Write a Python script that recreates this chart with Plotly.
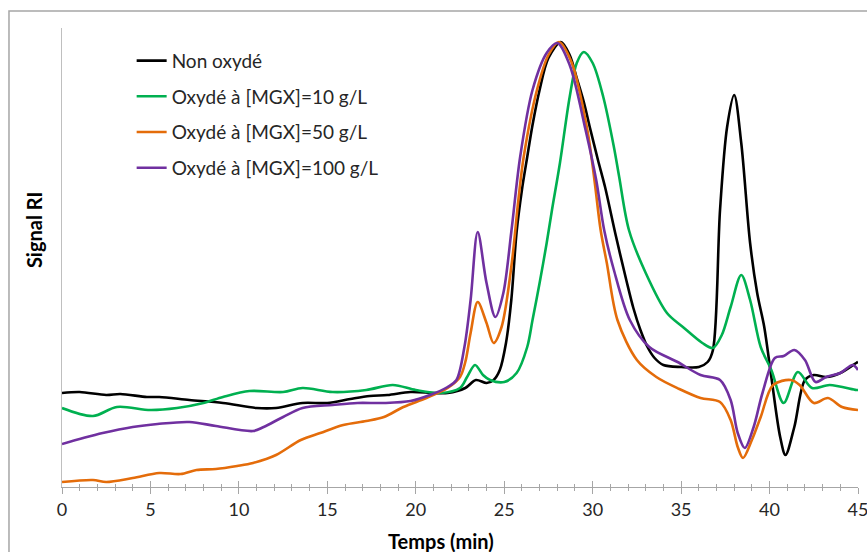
import plotly.graph_objects as go

# ---- data (signal in arbitrary units) ----
t_non = [0, 1, 2.5, 3.3, 4.8, 5.5, 7.2, 9.1, 11, 12.1, 13.6, 15, 16.3, 17.4, 18.4, 19.7, 21, 21.8,
         22.8, 23.4, 24.0, 24.4, 24.75, 25.1, 25.4, 25.7, 26.0, 26.3, 26.6, 27.0, 27.5, 28.2, 28.7,
         29.1, 29.5, 29.85, 30.3, 30.7, 31.3, 31.9, 32.3, 32.7, 33.1, 33.5, 34, 35, 36, 36.5, 36.8,
         37.2, 37.6, 38.0, 38.4, 38.9, 39.3, 39.7, 40.1, 40.6, 40.9, 41.4, 42.0, 42.5, 43.2, 44.0,
         44.9, 45]
y_non = [94, 95, 92, 93, 90, 90, 87, 84, 79, 79, 84, 84, 88, 91, 92, 95, 94, 94,
         99, 107, 104, 107, 117, 144, 187, 255, 297, 330, 362, 397, 429, 445, 432,
         409, 385, 359, 327, 300, 252, 207, 179, 157, 140, 129, 122, 120, 120, 125, 137,
         277, 360, 392, 344, 244, 194, 160, 110, 50, 32, 60, 107, 112, 110, 114,
         124, 125]

t_10 = [0, 1.75, 3.1, 5, 6.5, 8, 9.1, 10.6, 12.5, 13.6, 15.3, 17.2, 18.7, 20, 21.4, 22.5, 22.9,
        23.35, 23.8, 24.2, 25.0, 25.7, 26.3, 26.6, 27.0, 27.4, 27.7, 28.15, 28.7, 29.1, 29.5, 30.0,
        30.6, 31.2, 31.5, 32.05, 33.0, 34.2, 35.1, 36.2, 36.8, 37.3, 37.8, 38.4, 38.9, 39.5, 40.1,
        40.8, 41.6, 42.4, 43.4, 44.9, 45]
y_10 = [79, 71, 80, 77, 79, 84, 90, 96, 95, 99, 95, 97, 102, 97, 94, 99, 110,
        122, 112, 107, 105, 114, 140, 167, 204, 244, 277, 324, 390, 424, 435, 424,
        390, 340, 310, 257, 214, 174, 160, 144, 139, 152, 180, 212, 187, 140, 117,
        84, 115, 99, 102, 97, 97]

t_50 = [0, 1.75, 2.5, 4, 5.5, 6.7, 7.6, 8.7, 9.9, 10.8, 12.1, 13.5, 14.6, 15.9, 17.2, 18.2, 19.3,
        20.6, 21.8, 22.5, 22.8, 23.1, 23.5, 24.0, 24.4, 24.85, 25.4, 25.8, 26.1, 26.85, 27.5, 28.1,
        28.8, 29.7, 30.1, 30.45, 30.8, 31.4, 32.5, 33.6, 34.9, 36.1, 37.2, 37.8, 38.2, 38.5, 39.0,
        39.5, 40.2, 41.2, 41.7, 42.5, 43.3, 44.1, 45]
y_50 = [5, 7, 5, 9, 14, 13, 17, 18, 21, 24, 32, 47, 54, 62, 66, 70, 80,
        89, 99, 110, 125, 154, 185, 164, 144, 160, 220, 287, 330, 397, 432, 445,
        425, 357, 307, 257, 224, 167, 127, 110, 98, 89, 85, 67, 40, 29, 47,
        70, 102, 107, 102, 84, 89, 80, 77]

t_100 = [0, 1.2, 2.3, 4, 5.4, 7.2, 8.7, 10.8, 11.4, 12.5, 13.6, 15.3, 16.7, 18.2, 19.7, 20.8,
         21.8, 22.3, 22.75, 23.1, 23.5, 24.0, 24.5, 24.95, 25.4, 25.9, 26.6, 27.4, 28.0, 28.7,
         29.6, 30.2, 30.65, 31.2, 32.1, 33.2, 34.8, 36.1, 37.2, 37.8, 38.2, 38.6, 39.1, 39.6,
         40.3, 40.8, 41.4, 42.0, 42.6, 43.2, 44.0, 44.7, 45]
y_100 = [43, 49, 54, 60, 63, 65, 61, 56, 60, 70, 79, 82, 84, 84, 86, 92,
         100, 107, 140, 187, 255, 204, 170, 194, 255, 330, 397, 434, 444, 422,
         357, 307, 257, 217, 167, 140, 125, 112, 107, 87, 54, 39, 60, 94,
         129, 131, 137, 127, 105, 110, 114, 122, 117]

series_names = ["Non oxydé", "Oxydé à [MGX]=10 g/L", "Oxydé à [MGX]=50 g/L", "Oxydé à [MGX]=100 g/L"]
series_t = [t_non, t_10, t_50, t_100]
series_y = [y_non, y_10, y_50, y_100]
series_colors = ["#000000", "#00B050", "#E46C0A", "#7030A0"]

x_ticks = [0, 5, 10, 15, 20, 25, 30, 35, 40, 45]
x_title = "Temps (min)"
y_title = "Signal RI"

FONT = "Lato"

fig = go.Figure()
for i, (name, tt, yy, col) in enumerate(zip(series_names, series_t, series_y, series_colors)):
    fig.add_trace(go.Scatter(
        x=tt, y=yy, name=name, mode="lines",
        line=dict(color=col, width=2.6, shape="spline", smoothing=0.9),
        legendgroup="g%d" % i,
    ))

# invisible trace on overlay axis so cross ticks can be drawn
fig.add_trace(go.Scatter(x=[0, 45], y=[0, 0], xaxis="x2", yaxis="y", mode="lines",
                         line=dict(width=0), showlegend=False, hoverinfo="skip"))

fig.update_layout(
    width=867, height=552,
    margin=dict(l=62, r=9, t=28, b=65, autoexpand=False),
    paper_bgcolor="white", plot_bgcolor="white",
    font=dict(family=FONT, color="#262626"),
    showlegend=True,
    legend=dict(
        x=0.0875, y=0.97, xanchor="left", yanchor="top",
        font=dict(family=FONT, size=19, color="#262626"),
        bgcolor="rgba(0,0,0,0)", borderwidth=0,
        tracegroupgap=8, traceorder="grouped",
        itemwidth=30,
    ),
    xaxis=dict(
        range=[0, 45], tickmode="array", tickvals=x_ticks,
        ticktext=[str(v) for v in x_ticks],
        showgrid=False, zeroline=False,
        showline=True, linecolor="#a6a6a6", linewidth=1,
        ticks="outside", ticklen=6, tickcolor="#a6a6a6", tickwidth=1,
        minor=dict(dtick=1, ticks="outside", ticklen=3, tickcolor="#a6a6a6", tickwidth=1, showgrid=False),
        tickfont=dict(family=FONT, size=18, color="#262626"),
        ticklabeloverflow="allow", automargin=False,
    ),
    xaxis2=dict(
        range=[0, 45], overlaying="x", showticklabels=False,
        showgrid=False, zeroline=False, showline=False,
        tickmode="array", tickvals=x_ticks,
        ticks="inside", ticklen=6, tickcolor="#a6a6a6", tickwidth=1,
        minor=dict(dtick=1, ticks="inside", ticklen=3, tickcolor="#a6a6a6", tickwidth=1, showgrid=False),
        side="bottom", anchor="y", automargin=False,
    ),
    yaxis=dict(
        range=[0, 459], showticklabels=False, ticks="",
        showgrid=False, zeroline=False, automargin=False,
        showline=True, linecolor="#bfbfbf", linewidth=1,
    ),
    annotations=[
        dict(text="<b>%s</b>" % x_title, xref="paper", yref="paper", x=0.476, y=-0.118,
             xanchor="center", yanchor="middle", showarrow=False,
             font=dict(family=FONT, size=20, color="#000000")),
        dict(text="<b>%s</b>" % y_title, xref="paper", yref="paper", x=-0.035, y=0.56,
             xanchor="center", yanchor="middle", showarrow=False, textangle=-90,
             font=dict(family=FONT, size=20, color="#000000")),
    ],
    shapes=[
        dict(type="rect", xref="paper", yref="paper", x0=-0.0666, x1=1.3, y0=-0.4, y1=1.037,
             line=dict(color="#a6a6a6", width=1.5), fillcolor="rgba(0,0,0,0)", layer="below"),
    ],
)

fig.write_html("out.html",
               config={"displayModeBar": False},
               post_script="document.body.style.margin='0';document.body.style.overflow='hidden';")
